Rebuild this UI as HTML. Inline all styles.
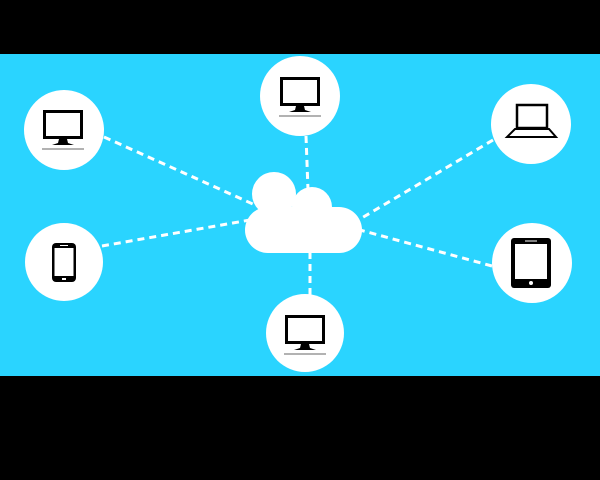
<!DOCTYPE html>
<html><head><style>body{margin:0;background:#000}svg{display:block}</style></head><body>
<svg width="600" height="480" viewBox="0 0 600 480" xmlns="http://www.w3.org/2000/svg">
<rect width="600" height="480" fill="#000"/>
<rect y="54" width="600" height="322" fill="#2ad4ff"/>
<g stroke="#fff" stroke-width="3" stroke-dasharray="7,5" fill="none">
<line x1="104" y1="137" x2="255" y2="205"/>
<line x1="306" y1="136" x2="308" y2="190"/>
<line x1="493" y1="140" x2="355" y2="222"/>
<line x1="102" y1="246" x2="250" y2="220"/>
<line x1="492" y1="266" x2="360" y2="230"/>
<line x1="310" y1="295" x2="310" y2="252"/>
</g>
<g fill="#fff">
<circle cx="64" cy="130" r="40"/>
<circle cx="300" cy="96" r="40"/>
<circle cx="531" cy="124" r="40"/>
<circle cx="64" cy="262" r="39"/>
<circle cx="532" cy="263" r="40"/>
<circle cx="305" cy="333" r="39"/>
<rect x="245" y="207" width="117" height="46" rx="23"/>
<circle cx="274" cy="194" r="22"/>
<circle cx="312" cy="207" r="20"/>
</g>
<defs>
<g id="mon">
<rect x="1.5" y="1.5" width="37" height="26" fill="#fff" stroke="#000" stroke-width="3"/>
<polygon points="16,29 24,29 25,33 31,35 9,35 15,33" fill="#000"/>
<line x1="-1" y1="39" x2="41" y2="39" stroke="#999" stroke-width="1.5"/>
</g>
</defs>
<use href="#mon" x="43" y="110"/>
<use href="#mon" x="280" y="77"/>
<use href="#mon" x="285" y="315"/>
<rect x="517" y="105" width="30" height="23" fill="#fff" stroke="#000" stroke-width="2.5"/>
<polygon points="515,129 549,129 556,137 507,137" fill="#fff" stroke="#000" stroke-width="2"/>
<rect x="511" y="238" width="40" height="50" rx="3" fill="#000"/>
<rect x="515" y="244" width="32" height="35" fill="#fff"/>
<circle cx="531" cy="283" r="2" fill="#fff"/>
<line x1="525" y1="241" x2="537" y2="241" stroke="#fff" stroke-width="1"/>
<rect x="52" y="243" width="24" height="39" rx="4" fill="#000"/>
<rect x="54.5" y="248" width="19" height="28" fill="#fff"/>
<line x1="60" y1="245.5" x2="68" y2="245.5" stroke="#fff" stroke-width="1"/>
<rect x="62" y="278" width="4" height="2" fill="#fff"/>
</svg>
</body></html>
